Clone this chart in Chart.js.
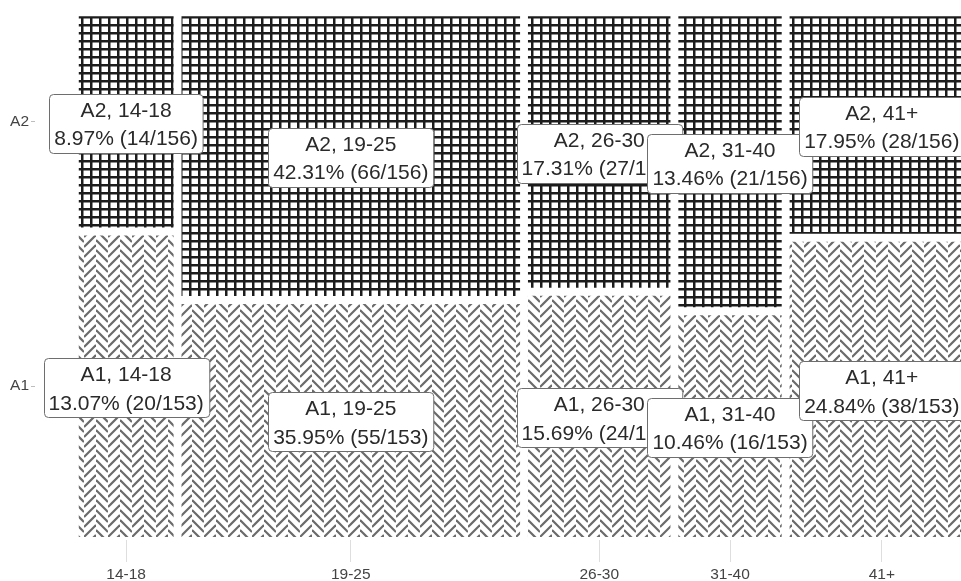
<!DOCTYPE html>
<html>
<head>
<meta charset="utf-8">
<title>Mosaic: A by age group</title>
<script src="https://cdn.jsdelivr.net/npm/chart.js@4.4.1/dist/chart.umd.min.js"></script>
<style>
  html, body { margin: 0; padding: 0; background: #ffffff; }
  #c { display: block; }
</style>
</head>
<body>
<canvas id="c" width="961" height="581"></canvas>
<script>
// Counts per age group for each level of A
const ageGroups = ['14-18', '19-25', '26-30', '31-40', '41+'];
const rowLabels = ['A1', 'A2'];
const countsA1 = [20, 55, 24, 16, 38];
const countsA2 = [14, 66, 27, 21, 28];

// Spacing between tiles, in axis units
const GAP_X = 0.0084;
const GAP_Y = 0.0153;

const FONT = '"Liberation Sans", Arial, Helvetica, sans-serif';

const totalA1 = countsA1.reduce((a, b) => a + b, 0);
const totalA2 = countsA2.reduce((a, b) => a + b, 0);
const colTotals = ageGroups.map((_, i) => countsA1[i] + countsA2[i]);
const grand = colTotals.reduce((a, b) => a + b, 0);

// Tile geometry in data units: column widths follow the column totals,
// heights within a column follow the A1 / A2 split.
const avail = 1 - GAP_X * (ageGroups.length - 1);
const cols = [];
let xCursor = 0;
ageGroups.forEach((g, i) => {
  const w = colTotals[i] / grand * avail;
  const a1Top = countsA1[i] / colTotals[i] * (1 - GAP_Y);
  cols.push({ x0: xCursor, x1: xCursor + w, a1Top: a1Top, a2Bottom: a1Top + GAP_Y });
  xCursor += w + GAP_X;
});
const colCenters = cols.map(c => (c.x0 + c.x1) / 2);

const ctx = document.getElementById('c').getContext('2d');

// Grid fill for A2
function gridPattern() {
  const t = document.createElement('canvas');
  t.width = 9; t.height = 8;
  const g = t.getContext('2d');
  g.fillStyle = '#ffffff';
  g.fillRect(0, 0, 9, 8);
  g.fillStyle = '#1c1c1c';
  g.fillRect(0, 0, 2.5, 8);
  g.fillRect(0, 0, 9, 2.5);
  return ctx.createPattern(t, 'repeat');
}

// Herringbone fill for A1: alternating slanted columns, staggered at the joins
function herringbonePattern() {
  const cw = 12, step = 10, shift = 5;
  const t = document.createElement('canvas');
  t.width = cw * 2; t.height = step * 2;
  const g = t.getContext('2d');
  g.fillStyle = '#ffffff';
  g.fillRect(0, 0, t.width, t.height);
  g.strokeStyle = '#6a6a6a';
  g.lineWidth = 2.2;
  for (let col = 0; col < 2; col++) {
    g.save();
    g.beginPath();
    g.rect(col * cw, 0, cw, t.height);
    g.clip();
    for (let y = -4 * step; y <= 4 * step; y += step) {
      g.beginPath();
      if (col === 0) {
        g.moveTo(0, y);
        g.lineTo(cw, y + cw);
      } else {
        g.moveTo(cw, y + cw + shift);
        g.lineTo(2 * cw, y + shift);
      }
      g.stroke();
    }
    g.restore();
  }
  return ctx.createPattern(t, 'repeat');
}

const fillA1 = herringbonePattern();
const fillA2 = gridPattern();

// One filled line segment per tile: the top edge, filled down to the tile's bottom
const datasets = [];
cols.forEach((c, i) => {
  datasets.push({
    label: 'A1 ' + ageGroups[i],
    data: [{ x: c.x0, y: c.a1Top }, { x: c.x1, y: c.a1Top }],
    fill: { value: 0 },
    backgroundColor: fillA1,
    borderColor: 'rgba(0,0,0,0)',
    borderWidth: 0,
    pointRadius: 0,
    tension: 0
  });
  datasets.push({
    label: 'A2 ' + ageGroups[i],
    data: [{ x: c.x0, y: 1 }, { x: c.x1, y: 1 }],
    fill: { value: c.a2Bottom },
    backgroundColor: fillA2,
    borderColor: 'rgba(0,0,0,0)',
    borderWidth: 0,
    pointRadius: 0,
    tension: 0
  });
});

// White boxed labels at each tile's centre
const tileLabels = {
  id: 'tileLabels',
  afterDatasetsDraw(chart) {
    const c2 = chart.ctx;
    const xs = chart.scales.x, ys = chart.scales.y;
    const rows = [
      { name: 'A2', counts: countsA2, total: totalA2, y0: c => c.a2Bottom, y1: () => 1 },
      { name: 'A1', counts: countsA1, total: totalA1, y0: () => 0, y1: c => c.a1Top }
    ];
    c2.save();
    c2.font = '21px ' + FONT;
    c2.textAlign = 'center';
    c2.textBaseline = 'middle';
    rows.forEach(r => {
      cols.forEach((c, i) => {
        const cx = xs.getPixelForValue((c.x0 + c.x1) / 2);
        const cy = ys.getPixelForValue((r.y0(c) + r.y1(c)) / 2);
        const l1 = r.name + ', ' + ageGroups[i];
        const l2 = (r.counts[i] / r.total * 100).toFixed(2) + '% (' + r.counts[i] + '/' + r.total + ')';
        const w = Math.max(c2.measureText(l1).width, c2.measureText(l2).width) + 10;
        const h = 59;
        const left = Math.round(cx - w / 2) + 0.5;
        const top = Math.round(cy - 28) + 0.5;
        const rad = 4;
        c2.beginPath();
        c2.moveTo(left + rad, top);
        c2.lineTo(left + w - rad, top);
        c2.arcTo(left + w, top, left + w, top + rad, rad);
        c2.lineTo(left + w, top + h - rad);
        c2.arcTo(left + w, top + h, left + w - rad, top + h, rad);
        c2.lineTo(left + rad, top + h);
        c2.arcTo(left, top + h, left, top + h - rad, rad);
        c2.lineTo(left, top + rad);
        c2.arcTo(left, top, left + rad, top, rad);
        c2.closePath();
        c2.fillStyle = '#ffffff';
        c2.fill();
        c2.strokeStyle = '#6e6e6e';
        c2.lineWidth = 1;
        c2.stroke();
        c2.fillStyle = '#2a2a2a';
        c2.fillText(l1, cx, cy - 11);
        c2.fillText(l2, cx, cy + 17.5);
      });
    });
    c2.restore();
  }
};

new Chart(ctx, {
  type: 'line',
  data: { datasets: datasets },
  plugins: [tileLabels],
  options: {
    responsive: false,
    animation: false,
    events: [],
    layout: { padding: { top: 8, right: 0, bottom: 0, left: 0 } },
    plugins: {
      legend: { display: false },
      tooltip: { enabled: false }
    },
    scales: {
      x: {
        type: 'linear',
        min: -0.0486,
        max: 0.9852,
        afterBuildTicks: s => { s.ticks = colCenters.map(v => ({ value: v })); },
        afterFit: s => { s.height = 41; },
        ticks: {
          autoSkip: false,
          maxRotation: 0,
          padding: 3,
          color: '#444444',
          font: { family: FONT, size: 15.5 },
          callback: (v, i) => ageGroups[i]
        },
        grid: { drawOnChartArea: false, tickLength: 22, tickColor: '#dedede', tickWidth: 1 },
        border: { display: false }
      },
      y: {
        type: 'linear',
        min: -0.0057,
        max: 1.0095,
        afterBuildTicks: s => {
          const c = cols[0];
          s.ticks = [{ value: c.a1Top / 2 }, { value: (c.a2Bottom + 1) / 2 }];
        },
        afterFit: s => { s.width = 35; },
        ticks: {
          autoSkip: false,
          padding: 2,
          color: '#444444',
          font: { family: FONT, size: 15.5 },
          callback: (v, i) => rowLabels[i]
        },
        grid: { drawOnChartArea: false, tickLength: 4, tickColor: '#bdbdbd', tickWidth: 1 },
        border: { display: false }
      }
    }
  }
});
</script>
</body>
</html>
